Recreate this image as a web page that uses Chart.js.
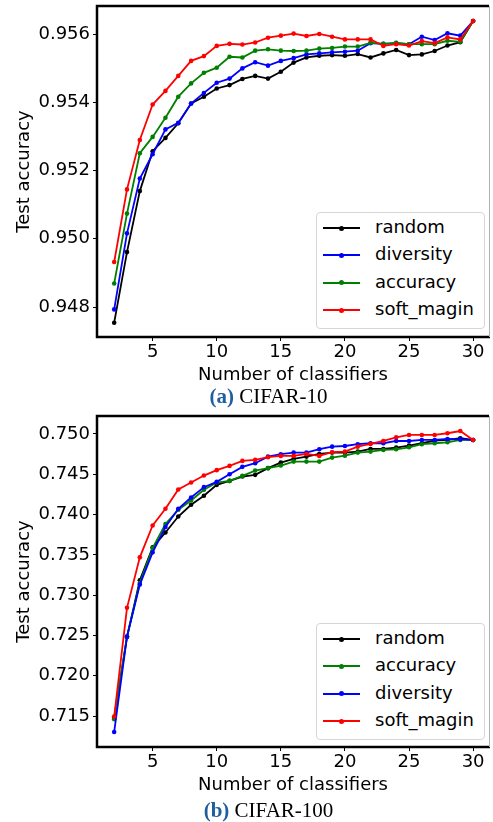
<!DOCTYPE html>
<html>
<head>
<meta charset="utf-8">
<script src="https://cdn.jsdelivr.net/npm/chart.js@4.4.1/dist/chart.umd.min.js"></script>
<style>
  body { margin: 0; background: #fff; width: 493px; height: 822px; position: relative; overflow: hidden; }
  canvas { position: absolute; left: 0; }
  .legend { position: absolute; left: 316px; width: 167px; height: 115px; border: 1px solid #d6d6d6; border-radius: 4px; background: #fff; font-family: "DejaVu Sans", sans-serif; font-size: 18px; }
  .row { position: absolute; left: 0; height: 26px; }
  .row .ln { position: absolute; left: 6px; width: 37px; height: 2px; top: 12px; }
  .row .dot { position: absolute; left: 22px; width: 5px; height: 5px; border-radius: 50%; top: 10.5px; }
  .row span { position: absolute; left: 58px; top: 1px; white-space: nowrap; color: #000; }
  .caption { position: absolute; left: 0; width: 537px; text-align: center; font-family: "Liberation Serif", serif; font-size: 21px; color: #000; }
  .caption b { color: #1f5f9f; }
</style>
</head>
<body>
<canvas id="c10" width="493" height="386" style="top:0px"></canvas>
<div class="caption" style="top:384px"><b>(a)</b> CIFAR-10</div>
<canvas id="c100" width="493" height="386" style="top:410px"></canvas>
<div class="caption" style="top:798px"><b>(b)</b> CIFAR-100</div>

<script>
// Number of classifiers
const nClassifiers = [2,3,4,5,6,7,8,9,10,11,12,13,14,15,16,17,18,19,20,21,22,23,24,25,26,27,28,29,30];
const xTicks = [5, 10, 15, 20, 25, 30];

// CIFAR-10
const c10Random    = [0.94754,0.94961,0.95140,0.95257,0.95296,0.95339,0.95397,0.95417,0.95441,0.95451,0.95469,0.95478,0.95470,0.95490,0.95517,0.95532,0.95537,0.95539,0.95537,0.95542,0.95532,0.95544,0.95554,0.95539,0.95541,0.95551,0.95567,0.95577,0.95639];
const c10Diversity = [0.94793,0.95016,0.95177,0.95248,0.95321,0.95340,0.95397,0.95428,0.95458,0.95470,0.95500,0.95518,0.95508,0.95522,0.95530,0.95541,0.95544,0.95547,0.95549,0.95552,0.95574,0.95572,0.95574,0.95571,0.95593,0.95583,0.95603,0.95596,0.95639];
const c10Accuracy  = [0.94869,0.95074,0.95251,0.95299,0.95355,0.95417,0.95456,0.95487,0.95502,0.95534,0.95532,0.95552,0.95556,0.95552,0.95551,0.95552,0.95558,0.95560,0.95564,0.95564,0.95575,0.95572,0.95575,0.95571,0.95571,0.95571,0.95581,0.95578,0.95639];
const c10Soft      = [0.94932,0.95145,0.95290,0.95394,0.95434,0.95478,0.95522,0.95536,0.95566,0.95572,0.95570,0.95576,0.95590,0.95596,0.95602,0.95595,0.95601,0.95593,0.95585,0.95585,0.95585,0.95566,0.95571,0.95567,0.95580,0.95574,0.95591,0.95585,0.95639];
const c10Ticks = [0.948, 0.950, 0.952, 0.954, 0.956];

// CIFAR-100
const c100Random    = [0.71481,0.72480,0.73185,0.73593,0.73778,0.73976,0.74121,0.74233,0.74369,0.74418,0.74472,0.74493,0.74576,0.74645,0.74691,0.74719,0.74752,0.74769,0.74769,0.74781,0.74814,0.74814,0.74830,0.74855,0.74885,0.74917,0.74926,0.74947,0.74926];
const c100Accuracy  = [0.71460,0.72490,0.73150,0.73585,0.73882,0.74059,0.74175,0.74307,0.74397,0.74418,0.74480,0.74546,0.74576,0.74608,0.74657,0.74657,0.74657,0.74707,0.74731,0.74769,0.74781,0.74802,0.74810,0.74835,0.74873,0.74885,0.74897,0.74926,0.74926];
const c100Diversity = [0.71303,0.72484,0.73131,0.73531,0.73845,0.74072,0.74212,0.74340,0.74406,0.74501,0.74592,0.74637,0.74719,0.74749,0.74769,0.74769,0.74811,0.74843,0.74851,0.74873,0.74885,0.74885,0.74913,0.74913,0.74926,0.74926,0.74938,0.74934,0.74926];
const c100Soft      = [0.71494,0.72843,0.73469,0.73865,0.74072,0.74311,0.74397,0.74484,0.74551,0.74604,0.74666,0.74678,0.74712,0.74728,0.74728,0.74752,0.74728,0.74774,0.74781,0.74843,0.74876,0.74913,0.74959,0.74988,0.74988,0.74988,0.75009,0.75037,0.74926];
const c100Ticks = [0.715, 0.720, 0.725, 0.730, 0.735, 0.740, 0.745, 0.750];

const font = { family: 'DejaVu Sans', size: 18 };

// marco tipo matplotlib (spines)
const framePlugin = {
  id: 'frame',
  afterDatasetsDraw(chart) {
    const { ctx, chartArea: a } = chart;
    ctx.save();
    ctx.strokeStyle = '#000';
    ctx.lineWidth = 2.5;
    ctx.beginPath();
    ctx.moveTo(a.right, a.top);
    ctx.lineTo(a.left, a.top);
    ctx.lineTo(a.left, a.bottom);
    ctx.lineTo(a.right + 1, a.bottom);
    ctx.stroke();
    ctx.strokeStyle = '#b0b0b0';
    ctx.lineWidth = 1;
    ctx.beginPath();
    ctx.moveTo(a.right + 0.5, a.top);
    ctx.lineTo(a.right + 0.5, a.bottom);
    ctx.stroke();
    ctx.restore();
  }
};

function makeChart(id, series, yTicks, yMin, yMax) {
  const datasets = series.map((s, i) => ({
    label: s.label,
    data: s.values.map((v, j) => ({ x: nClassifiers[j], y: v })),
    borderColor: s.color,
    backgroundColor: s.color,
    pointBackgroundColor: s.color,
    borderWidth: 1.8,
    pointRadius: 2.3,
    pointBorderWidth: 0,
    order: series.length - i, // la última serie queda encima
  }));

  return new Chart(document.getElementById(id), {
    type: 'line',
    data: { datasets },
    options: {
      responsive: false,
      animation: false,
      devicePixelRatio: 1,
      layout: { padding: { top: 6, right: 1, left: 0, bottom: 0 } },
      plugins: { legend: { display: false }, tooltip: { enabled: false } },
      scales: {
        x: {
          type: 'linear',
          min: 0.66,
          max: 31.24,
          afterBuildTicks: s => { s.ticks = xTicks.map(v => ({ value: v })); },
          afterFit: s => { s.height = 49; s.paddingLeft = 0; s.paddingRight = 0; },
          ticks: { font, color: '#000', padding: 1, maxRotation: 0 },
          grid: { drawOnChartArea: false, drawTicks: true, tickLength: 4, color: '#000' },
          border: { display: false },
          title: { display: true, text: 'Number of classifiers', font, color: '#000', padding: { top: 3, bottom: 0 } },
        },
        y: {
          min: yMin,
          max: yMax,
          afterBuildTicks: s => { s.ticks = yTicks.map(v => ({ value: v })); },
          afterFit: s => { s.width = 97; s.paddingTop = 0; s.paddingBottom = 0; },
          ticks: { font, color: '#000', padding: 3, callback: v => v.toFixed(3) },
          grid: { drawOnChartArea: false, drawTicks: true, tickLength: 4, color: '#000' },
          border: { display: false },
          title: { display: true, text: 'Test accuracy', font, color: '#000', padding: { top: 14, bottom: 0 } },
        },
      },
    },
    plugins: [framePlugin],
  });
}

function makeLegend(series, top) {
  const box = document.createElement('div');
  box.className = 'legend';
  box.style.top = top + 'px';
  series.forEach((s, i) => {
    const row = document.createElement('div');
    row.className = 'row';
    row.style.top = (2 + i * 27.4) + 'px';
    row.innerHTML = '<div class="ln" style="background:' + s.color + '"></div>' +
      '<div class="dot" style="background:' + s.color + '"></div><span>' + s.label + '</span>';
    box.appendChild(row);
  });
  document.body.appendChild(box);
}

const series10 = [
  { label: 'random', values: c10Random, color: '#000000' },
  { label: 'diversity', values: c10Diversity, color: '#0000ff' },
  { label: 'accuracy', values: c10Accuracy, color: '#008000' },
  { label: 'soft_magin', values: c10Soft, color: '#ff0000' },
];
const series100 = [
  { label: 'random', values: c100Random, color: '#000000' },
  { label: 'accuracy', values: c100Accuracy, color: '#008000' },
  { label: 'diversity', values: c100Diversity, color: '#0000ff' },
  { label: 'soft_magin', values: c100Soft, color: '#ff0000' },
];

makeChart('c10', series10, c10Ticks, 0.94712, 0.95683);
makeChart('c100', series100, c100Ticks, 0.71116, 0.75223);
makeLegend(series10, 212);
makeLegend(series100, 623);
</script>
</body>
</html>
